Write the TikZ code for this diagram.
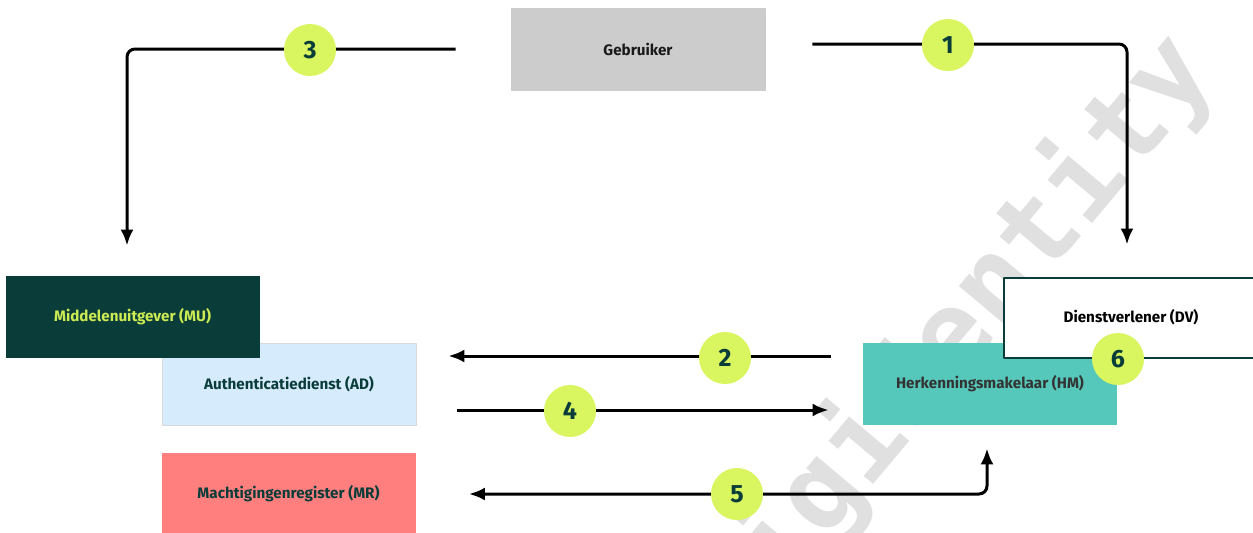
\documentclass[tikz,border=0pt]{standalone}
\usepackage{fontspec}
\setmainfont{Fira Sans}
\newfontfamily\markfont{DejaVu Sans Mono}
\usetikzlibrary{arrows.meta,calc}
\definecolor{dgreen}{HTML}{0A3D3A}
\definecolor{lime}{HTML}{D9F55F}
\definecolor{limetext}{HTML}{CDEB52}
\definecolor{adblue}{HTML}{D6EBFB}
\definecolor{mrred}{HTML}{FF7F7E}
\definecolor{hmteal}{HTML}{56C8BB}
\definecolor{usergray}{HTML}{CCCCCC}
\definecolor{wmgray}{HTML}{E0E0E0}
\tikzset{
	box/.style={rectangle, minimum width=127pt, minimum height=41pt, inner sep=0pt, font=\fontsize{7.6}{9}\selectfont\bfseries},
	num/.style={circle, fill=lime, minimum size=26pt, inner sep=0pt, text=dgreen, font=\fontsize{12.5}{14}\selectfont\bfseries},
	flow/.style={line width=1.5pt, rounded corners=4pt, -{Latex[length=8pt,width=6.5pt]}},
}
\begin{document}
\begin{tikzpicture}[x=0.5pt, y=-0.5pt, line join=round]
		\useasboundingbox (0,0) rectangle (1253,532);
		% watermark
		\node[rotate=50, text=wmgray, font=\markfont\bfseries\fontsize{56.5}{60}\selectfont] (mark) at (952,338) {digidentity};
		% actors
		\node[box, fill=usergray, draw=black!20, line width=0.4pt, text=black!90] (user) at (638,49) {Gebruiker};
		\node[box, fill=adblue, draw=black!15, line width=0.4pt, text=dgreen] (ad) at (289,384) {Authenticatiedienst (AD)};
		\node[box, fill=dgreen, text=limetext] (mu) at (132.5,317) {Middelenuitgever (MU)};
		\node[box, fill=mrred, text=dgreen, minimum height=41pt] (mr) at (288.5,494) {Machtigingenregister (MR)};
		\node[box, fill=hmteal, text=black!80] (hm) at (990,384) {Herkenningsmakelaar (HM)};
		\node[box, fill=white, draw=dgreen, line width=1pt, minimum height=40pt, text=black] (dv) at (1131,317.5) {Dienstverlener (DV)};
		% free ends of the flows
		\coordinate (s1) at ($(user.east)+(47,-5)$);
		\coordinate (e1) at ($(dv.north)+(-4,-32)$);
		\coordinate (s3) at ($(user.west)+(-55,0)$);
		\coordinate (e3) at ($(mu.north)+(-5.5,-30)$);
		\coordinate (s2) at ($(hm.west)+(-32,-28)$);
		\coordinate (e2) at ($(ad.east)+(32,-28)$);
		\coordinate (s4) at ($(ad.east)+(41,26)$);
		\coordinate (e4) at ($(hm.west)+(-34,26)$);
		\coordinate (s5) at ($(mr.east)+(53,0)$);
		\coordinate (e5) at ($(hm.south)+(-3,23)$);
		% flows
		\draw[flow] (s1) -| (e1);
		\draw[flow] (s3) -| (e3);
		\draw[flow] (s2) -- (e2);
		\draw[flow] (s4) -- (e4);
		\draw[flow, {Latex[length=8pt,width=6.5pt]}-{Latex[length=8pt,width=6.5pt]}] (s5) -| (e5);
		% steps
		\node[num] (n1) at (948,45) {1};
		\node[num] (n2) at (725,358) {2};
		\node[num] (n3) at (310,50) {3};
		\node[num] (n4) at (570,411) {4};
		\node[num] (n5) at (737,494) {5};
		\node[num] (n6) at (1118,359) {6};
\end{tikzpicture}
\end{document}
